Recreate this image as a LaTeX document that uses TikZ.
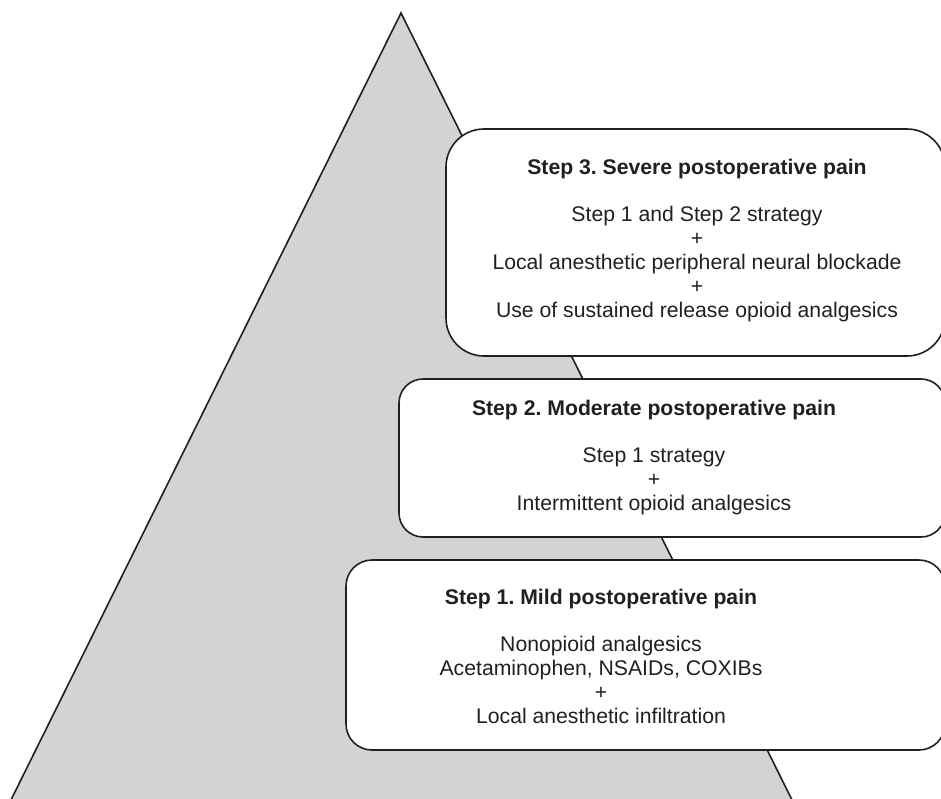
\documentclass[tikz,border=0pt]{standalone}
\usepackage{fontspec}
\setmainfont{Liberation Sans}
\frenchspacing
\definecolor{inkgray}{RGB}{35,31,32}
\definecolor{pyramidgray}{RGB}{209,211,212}
\tikzset{
	stepbox/.style={draw=inkgray, fill=white, line width=0.8pt},
	steptext/.style={align=center, text=inkgray, inner sep=0pt, font=\fontsize{10.6}{12}\selectfont},
}

\begin{document}
\begin{tikzpicture}[x=0.5pt,y=-0.5pt]
			\useasboundingbox (0,0) rectangle (941,798);
			\clip (0,0) rectangle (941,798);
			\coordinate (apex) at (401,13);
			\coordinate (baseL) at (6,810);
			\coordinate (baseR) at (797,810);
			\draw[fill=pyramidgray, draw=inkgray, line width=0.8pt] (apex) -- (baseR) -- (baseL) -- cycle;
			
			\draw[stepbox, rounded corners=19pt] (446,129) rectangle (945,356);
			\draw[stepbox, rounded corners=12pt] (399,379) rectangle (945,537);
			\draw[stepbox, rounded corners=13pt] (346,560) rectangle (945,750);
			
			\node[steptext] (step3) at (697,241) {\textbf{Step 3. Severe postoperative pain}\\[11.5pt]
				Step 1 and Step 2 strategy\\ +\\ Local anesthetic peripheral neural blockade\\ +\\ Use of sustained release opioid analgesics};
			\node[steptext] (step2) at (654,458) {\textbf{Step 2. Moderate postoperative pain}\\[11.5pt]
				Step 1 strategy\\ +\\ Intermittent opioid analgesics};
			\node[steptext] (step1) at (601,656) {\textbf{Step 1. Mild postoperative pain}\\[11.5pt]
				Nonopioid analgesics\\ Acetaminophen, NSAIDs, COXIBs\\ +\\ Local anesthetic infiltration};
	\end{tikzpicture}
\end{document}
